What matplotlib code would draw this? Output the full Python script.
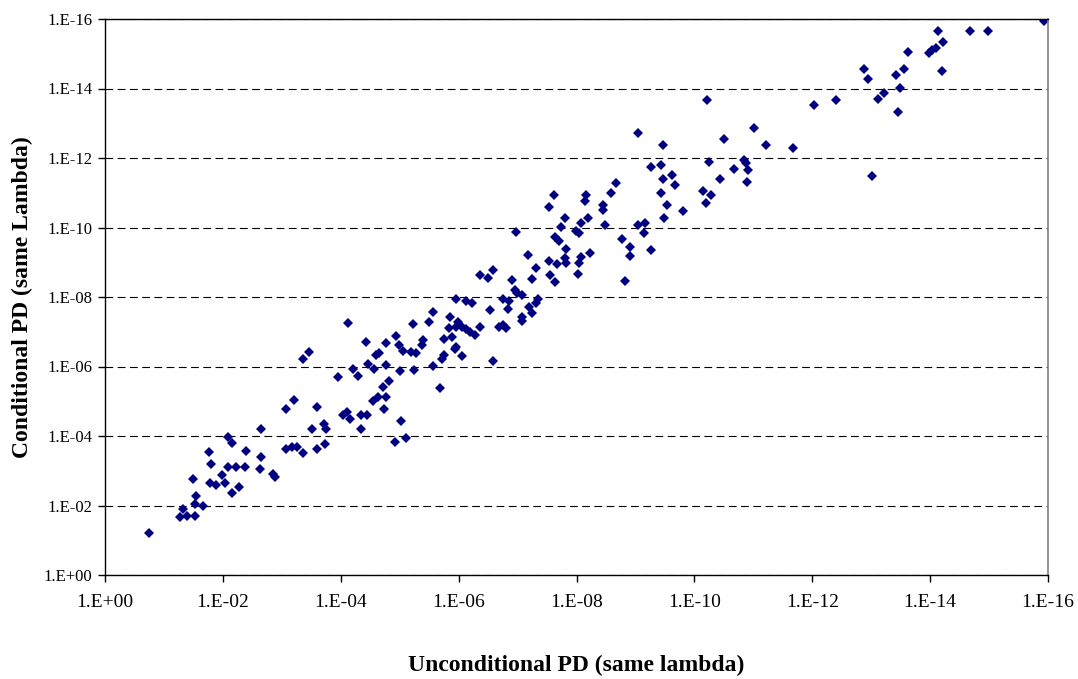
import numpy as np
import matplotlib
matplotlib.use("Agg")
import matplotlib.pyplot as plt
from matplotlib.ticker import FixedLocator, FuncFormatter, NullLocator

# -log10 of the PDs
uncond_exp = [0.74, 1.27, 1.32, 1.39, 1.52, 1.52, 1.55, 1.66, 1.50, 1.78,
              1.89, 1.99, 2.03, 2.15, 2.27, 1.80, 1.77, 2.08, 2.22, 2.38,
              2.08, 2.15, 2.40, 2.65, 2.63, 2.85, 2.88, 2.65, 3.07, 3.20,
              3.60, 3.07, 3.17, 3.26, 3.36, 3.59, 3.73, 3.52, 3.71, 3.75,
              3.36, 3.46, 4.12, 3.96, 4.21, 4.29, 4.04, 4.11, 4.16, 4.34,
              4.44, 4.34, 4.42, 4.46, 4.56, 4.59, 4.65, 4.77, 4.77, 4.93,
              4.98, 5.06, 5.23, 5.20, 5.28, 5.39, 5.38, 5.50, 5.56, 5.85,
              5.83, 5.75, 5.88, 5.95, 5.96, 5.75, 5.72, 5.56, 5.68, 5.00,
              5.24, 4.82, 4.72, 4.54, 4.63, 4.77, 4.74, 5.02, 4.92, 5.10,
              5.94, 5.95, 6.13, 6.22, 5.99, 6.05, 6.13, 6.20, 6.28, 6.36,
              6.05, 6.58, 6.53, 6.69, 6.76, 6.81, 6.36, 6.50, 6.59, 6.90,
              6.95, 6.99, 7.08, 6.75, 6.86, 6.83, 7.35, 7.31, 7.20, 7.24,
              7.07, 7.07, 6.98, 7.64, 7.71, 7.99, 8.05, 7.83, 7.17, 8.23,
              8.08, 8.05, 7.54, 7.67, 7.80, 7.83, 7.32, 8.03, 7.55, 7.63,
              7.24, 8.07, 7.73, 7.81, 8.20, 7.54, 7.62, 8.16, 8.15, 8.45,
              8.45, 8.58, 8.67, 8.49, 9.05, 9.17, 9.15, 8.77, 8.90, 8.90,
              9.27, 8.83, 9.05, 9.47, 9.26, 9.44, 9.62, 9.46, 9.67, 9.44,
              9.53, 9.80, 9.49, 10.22, 12.03, 10.51, 11.02, 11.22, 11.67, 10.24,
              10.14, 10.29, 10.19, 10.44, 10.67, 10.84, 10.88, 10.91, 10.90, 15.93,
              14.13, 14.67, 14.98, 14.22, 13.62, 13.98, 14.04, 14.10, 14.20, 12.88,
              12.94, 13.42, 13.55, 13.49, 13.22, 13.12, 13.46, 12.41, 13.01]

cond_exp = [1.20, 1.66, 1.91, 1.70, 1.70, 2.04, 2.27, 1.99, 2.77, 2.64,
            2.58, 2.87, 2.66, 2.35, 2.52, 3.19, 3.54, 3.10, 3.10, 3.10,
            3.96, 3.81, 3.56, 3.40, 3.06, 2.91, 2.81, 4.19, 4.77, 5.04,
            4.84, 3.63, 3.69, 3.69, 3.50, 3.63, 3.77, 4.21, 4.35, 4.19,
            6.22, 6.42, 7.26, 5.69, 5.92, 5.73, 4.60, 4.69, 4.48, 4.60,
            4.60, 4.19, 6.71, 6.07, 5.92, 6.32, 6.38, 6.03, 6.67, 6.88,
            6.61, 6.45, 7.22, 6.42, 6.38, 6.76, 6.63, 7.28, 7.57, 7.42,
            7.11, 6.80, 6.84, 6.57, 7.15, 6.32, 6.22, 6.01, 5.38, 5.86,
            5.90, 5.57, 5.40, 5.02, 5.11, 5.13, 4.77, 4.44, 3.83, 3.94,
            6.50, 7.95, 7.88, 7.82, 7.28, 7.15, 7.09, 6.99, 6.92, 7.15,
            6.30, 6.15, 7.63, 7.15, 7.19, 7.11, 8.62, 8.55, 8.78, 8.49,
            8.20, 8.11, 8.07, 7.95, 7.88, 7.66, 7.95, 7.82, 7.70, 7.55,
            7.42, 7.30, 9.87, 9.72, 9.60, 9.91, 9.83, 9.39, 9.22, 9.27,
            9.16, 8.97, 9.03, 8.95, 9.12, 8.99, 8.83, 8.66, 8.62, 8.43,
            8.53, 10.14, 10.02, 10.27, 10.27, 10.60, 10.94, 10.93, 10.75, 10.64,
            10.50, 11.00, 11.27, 10.08, 10.08, 10.14, 9.85, 9.66, 9.45, 9.18,
            9.35, 8.47, 12.73, 12.37, 11.73, 11.79, 11.52, 11.39, 11.21, 11.00,
            10.64, 10.48, 10.27, 13.67, 13.53, 12.54, 12.86, 12.37, 12.29, 11.88,
            11.04, 10.94, 10.71, 11.39, 11.67, 11.94, 11.85, 11.65, 11.31, 15.93,
            15.65, 15.65, 15.65, 15.34, 15.05, 15.03, 15.11, 15.17, 14.51, 14.57,
            14.28, 14.38, 14.57, 14.01, 13.88, 13.69, 13.32, 13.67, 11.48]

uncond_pd = 10.0 ** -np.array(uncond_exp)
cond_pd = 10.0 ** -np.array(cond_exp)

tick_vals = [10.0 ** -k for k in range(0, 17, 2)]

plt.rcParams['font.family'] = ['Liberation Serif', 'DejaVu Serif']

fig = plt.figure(figsize=(10.78, 6.79), dpi=100)
ax = fig.add_axes([105 / 1078, 104 / 679, 943 / 1078, 556 / 679])

ax.plot(uncond_pd, cond_pd, linestyle='none', marker='D', markersize=5.2,
        color='#000080', markeredgewidth=0)

ax.set_xscale('log')
ax.set_yscale('log')
ax.set_xlim(1, 1e-16)
ax.set_ylim(1, 1e-16)

fmt = FuncFormatter(lambda v, p: '1.E%+03d' % round(np.log10(v)))
for axis in (ax.xaxis, ax.yaxis):
    axis.set_major_locator(FixedLocator(tick_vals))
    axis.set_minor_locator(NullLocator())
    axis.set_major_formatter(fmt)

ax.tick_params(direction='out', length=5, width=1, color='black')
ax.tick_params(axis='x', labelsize=14, pad=9)
ax.tick_params(axis='y', labelsize=12, pad=4)

ax.yaxis.grid(True, color='black', linestyle=(0, (7, 4)), linewidth=0.8)
ax.set_axisbelow(True)

for s in ('left', 'bottom', 'top'):
    ax.spines[s].set_color('black')
    ax.spines[s].set_linewidth(1)
ax.spines['right'].set_color('#808080')
ax.spines['right'].set_linewidth(1.2)

ax.set_xlabel('Unconditional PD (same lambda)', fontsize=17, fontweight='bold', va='center')
ax.set_ylabel('Conditional PD (same Lambda)', fontsize=17, fontweight='bold', va='center')
ax.xaxis.set_label_coords(0.5, (575 - 665) / 556)
ax.yaxis.set_label_coords((22 - 105) / 943, 0.5)

fig.savefig('out.png', dpi=100)
